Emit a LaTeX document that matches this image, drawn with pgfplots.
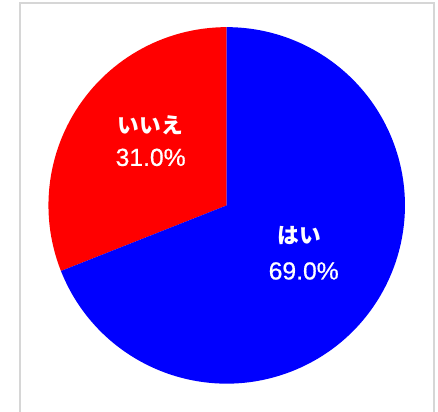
\documentclass[border=0pt]{standalone}
\usepackage{pgfplots}
\pgfplotsset{compat=1.18}
\usepackage{pgfplotstable}
\usepackage{fontspec}
\setmainfont{Liberation Sans}
\newfontfamily\numfont[FakeBold=0.6]{Liberation Sans}
\newfontfamily\jp{Noto Sans CJK JP}
\definecolor{framegray}{HTML}{D6D6D6}
\definecolor{pieblue}{HTML}{0000FF}
\definecolor{piered}{HTML}{FF0000}
% share of each answer, in percent
\pgfplotstableread{
idx value
0 31.0
1 69.0
}\piedata
\begin{document}
\pgfplotstablegetelem{0}{value}\of\piedata
\pgfmathsetmacro{\va}{\pgfplotsretval}
\pgfmathsetmacro{\aend}{90+3.6*\va}
\begin{tikzpicture}
\begin{axis}[scale only axis, width=438pt, height=417pt,
  xmin=0, xmax=438, ymin=0, ymax=417, hide axis, clip=false]
\coordinate (bl) at (axis cs:0,0);
\coordinate (tr) at (axis cs:438,417);
\fill[white] (axis cs:0,0) rectangle (axis cs:438,417);
\fill[piered] (axis cs:224,209) -- ++(90:180.5pt) arc[start angle=90, end angle=\aend, radius=180.5pt] -- cycle;
\fill[pieblue] (axis cs:224,209) -- ++(\aend:180.5pt) arc[start angle=\aend, end angle=450, radius=180.5pt] -- cycle;
\draw[framegray, line width=2pt] (axis cs:14.3,0) -- (axis cs:14.3,414) -- (axis cs:434,414) -- (axis cs:434,0);
\node[anchor=base, text=white, inner sep=0pt, font={\fontsize{22pt}{22pt}\selectfont\jp\bfseries}] at (axis cs:146.5,281.4) {いいえ};
\node[anchor=base, text=white, inner sep=0pt, font={\fontsize{25pt}{25pt}\selectfont\numfont}] at (axis cs:147,249) {31.0\%};
\node[anchor=base, text=white, inner sep=0pt, font={\fontsize{22pt}{22pt}\selectfont\jp\bfseries}] at (axis cs:297.5,170.4) {はい};
\node[anchor=base, text=white, inner sep=0pt, font={\fontsize{25pt}{25pt}\selectfont\numfont}] at (axis cs:302,134) {69.0\%};
\end{axis}
\pgfresetboundingbox
\useasboundingbox (bl) rectangle (tr);
\end{tikzpicture}
\end{document}
